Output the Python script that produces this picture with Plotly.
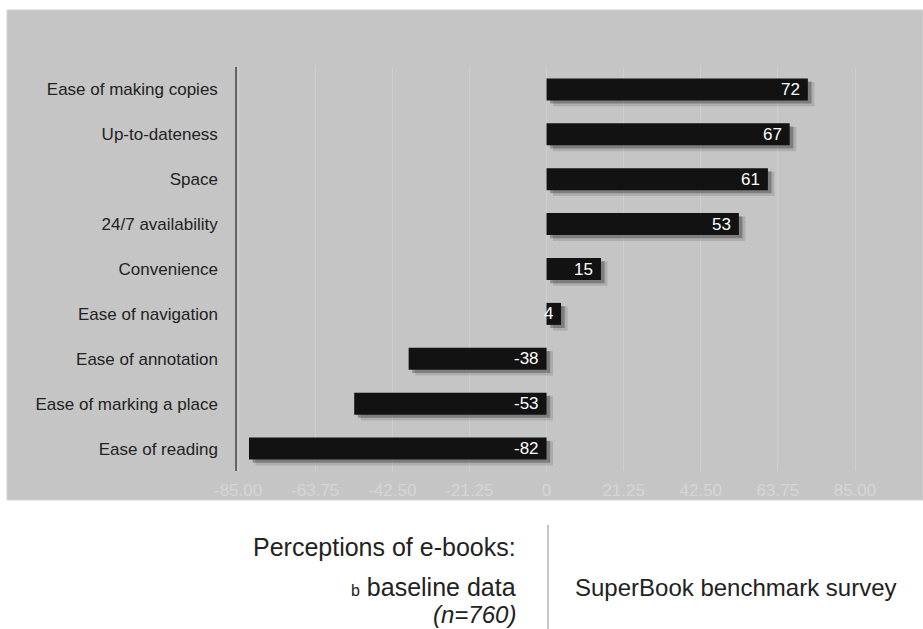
import plotly.graph_objects as go

categories = ["Ease of making copies", "Up-to-dateness", "Space", "24/7 availability",
              "Convenience", "Ease of navigation", "Ease of annotation",
              "Ease of marking a place", "Ease of reading"]
values = [72, 67, 61, 53, 15, 4, -38, -53, -82]
tick_vals = [-85, -63.75, -42.5, -21.25, 0, 21.25, 42.5, 63.75, 85]
tick_text = ["-85.00", "-63.75", "-42.50", "-21.25", "0", "21.25", "42.50", "63.75", "85.00"]

FONT = "Liberation Sans, Arial, Helvetica, sans-serif"
W, H = 923, 629
L, R, T, B = 237, 23, 67, 158
PW, PH = W - L - R, H - T - B

def px(x):
    return (x - L) / PW

def py(y):
    return (H - B - y) / PH

BAR_W = 0.49

fig = go.Figure()
# soft drop shadows
fig.add_trace(go.Bar(y=categories, x=values, base=1.8, orientation="h",
                     width=BAR_W + 0.05, offset=-BAR_W / 2 + 0.08,
                     marker=dict(color="rgba(0,0,0,0.12)", line=dict(width=0)),
                     hoverinfo="skip", showlegend=False))
fig.add_trace(go.Bar(y=categories, x=values, base=1.0, orientation="h",
                     width=BAR_W, offset=-BAR_W / 2 + 0.07,
                     marker=dict(color="rgba(0,0,0,0.28)", line=dict(width=0)),
                     hoverinfo="skip", showlegend=False))
# main bars
fig.add_trace(go.Bar(y=categories, x=values, orientation="h",
                     width=BAR_W, offset=-BAR_W / 2,
                     marker=dict(color="#121212", line=dict(width=0)),
                     showlegend=False))

annotations = []
for c, v in zip(categories, values):
    annotations.append(dict(x=v if v > 0 else 0, y=c, xref="x", yref="y",
                            text=str(v), showarrow=False, xanchor="right",
                            yanchor="middle", xshift=-6,
                            font=dict(family=FONT, size=17, color="white")))

annotations += [
    dict(x=px(518), y=py(547), xref="paper", yref="paper", text="Perceptions of e-books:",
         showarrow=False, xanchor="right", yanchor="middle",
         font=dict(family=FONT, size=25, color="#222")),
    dict(x=px(518), y=py(587), xref="paper", yref="paper",
         text="<span style='font-size:16px'>b</span> baseline data",
         showarrow=False, xanchor="right", yanchor="middle",
         font=dict(family=FONT, size=25, color="#222")),
    dict(x=px(518), y=py(614), xref="paper", yref="paper", text="<i>(n=760)</i>",
         showarrow=False, xanchor="right", yanchor="middle",
         font=dict(family=FONT, size=24, color="#222")),
    dict(x=px(573), y=py(587), xref="paper", yref="paper", text="SuperBook benchmark survey",
         showarrow=False, xanchor="left", yanchor="middle",
         font=dict(family=FONT, size=24, color="#222")),
]

shapes = [
    dict(type="rect", xref="paper", yref="paper", x0=px(7), x1=px(923), y0=py(500), y1=py(10),
         fillcolor="#c5c5c5", line=dict(color="#d2d2d2", width=1), layer="below"),
    dict(type="line", xref="paper", yref="paper", x0=px(548), x1=px(548), y0=py(525), y1=py(629),
         line=dict(color="#a0a0a0", width=1.2)),
]

fig.update_layout(
    width=W, height=H,
    margin=dict(l=L, r=R, t=T, b=B, pad=0),
    paper_bgcolor="white", plot_bgcolor="rgba(0,0,0,0)",
    barmode="overlay", bargap=0.5,
    annotations=annotations, shapes=shapes,
    xaxis=dict(range=[-85.3, 97.4], tickvals=tick_vals, ticktext=tick_text,
               showgrid=True, gridcolor="#cfcfcf", gridwidth=1,
               zeroline=True, zerolinecolor="#cfcfcf", zerolinewidth=1,
               showline=False, ticks="", ticklabelstandoff=7,
               tickfont=dict(family=FONT, size=17, color="#d6d6d6"), fixedrange=True),
    yaxis=dict(categoryorder="array", categoryarray=categories, autorange="reversed",
               showline=True, linecolor="#666", linewidth=1.5, showgrid=False,
               zeroline=False, ticks="", ticklabelstandoff=14,
               tickfont=dict(family=FONT, size=17, color="#222"), fixedrange=True),
)

fig.write_html("out.html", config={"displayModeBar": False},
               post_script="document.body.style.margin='0';document.body.style.overflow='hidden';")
